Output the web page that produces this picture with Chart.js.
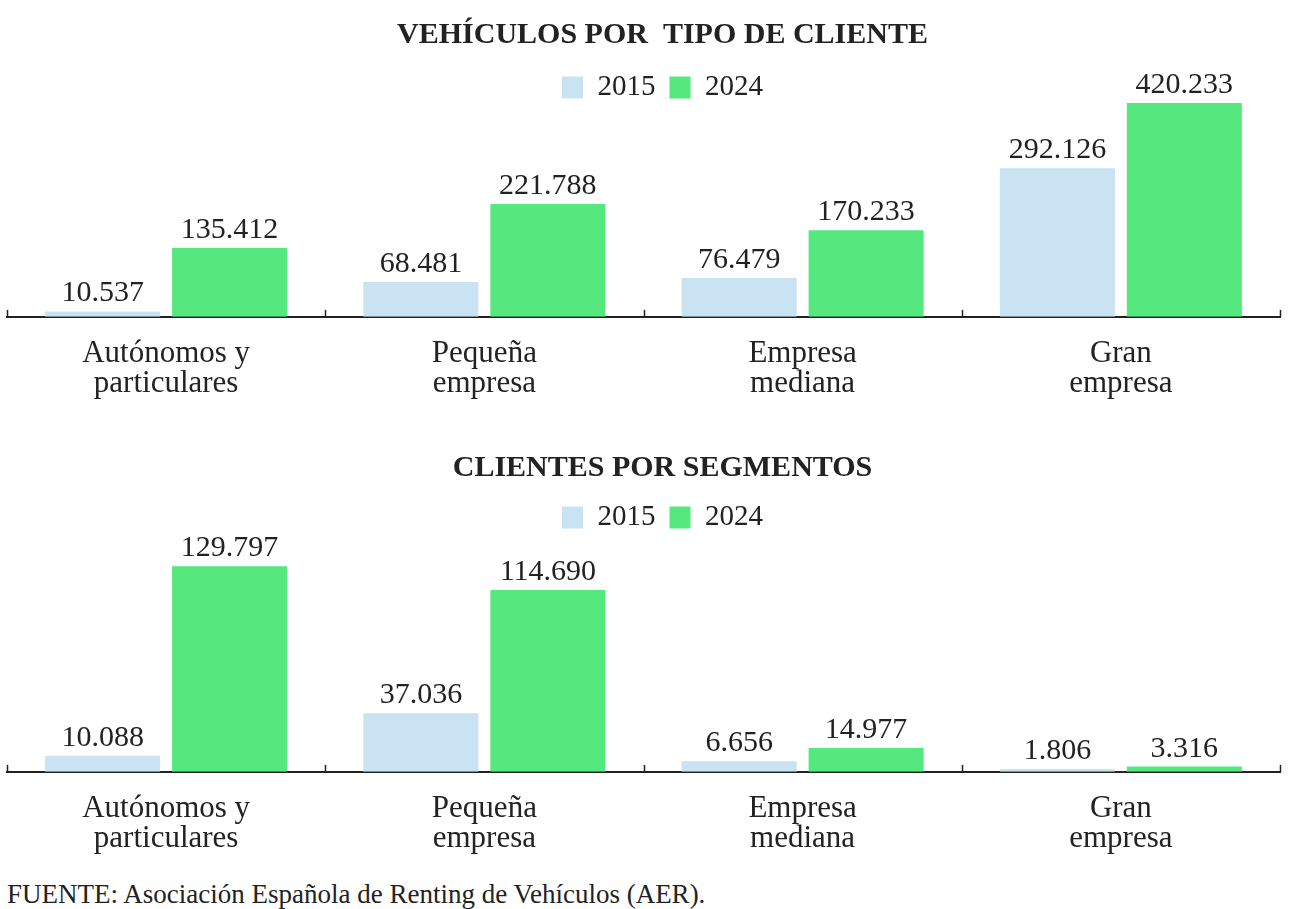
<!DOCTYPE html>
<html>
<head>
<meta charset="utf-8">
<script src="https://cdn.jsdelivr.net/npm/chart.js@4.4.1/dist/chart.umd.min.js"></script>
<style>
  html, body { margin: 0; padding: 0; background: #fff; }
  body { width: 1292px; height: 909px; position: relative; overflow: hidden; }
  .wrap { position: absolute; left: 0; width: 1330px; }
  #w1 { top: 0; height: 421px; }
  #w2 { top: 430px; height: 446px; }
  #footer { position: absolute; left: 7px; top: 879px; font-family: "Liberation Serif", serif; font-size: 27px; color: #222; white-space: nowrap; }
</style>
</head>
<body>
<div class="wrap" id="w1"><canvas id="c1"></canvas></div>
<div class="wrap" id="w2"><canvas id="c2"></canvas></div>
<div id="footer">FUENTE: Asociación Española de Renting de Vehículos (AER).</div>
<script>
const categories = [
  ['Autónomos y', 'particulares'],
  ['Pequeña', 'empresa'],
  ['Empresa', 'mediana'],
  ['Gran', 'empresa']
];
const seriesNames = ['2015', '2024'];
const vehiculos2015 = [10537, 68481, 76479, 292126];
const vehiculos2024 = [135412, 221788, 170233, 420233];
const clientes2015 = [10088, 37036, 6656, 1806];
const clientes2024 = [129797, 114690, 14977, 3316];
const title1 = 'VEHÍCULOS POR  TIPO DE CLIENTE';
const title2 = 'CLIENTES POR SEGMENTOS';

const COLOR_2015 = '#c9e3f2';
const COLOR_2024 = '#55e87f';
const INK = '#222222';
const FONT = '"Liberation Serif", "Times New Roman", serif';

function fmt(v) {
  return String(v).replace(/\B(?=(\d{3})+(?!\d))/g, '.');
}

const valueLabels = {
  id: 'valueLabels',
  afterDatasetsDraw(chart) {
    const ctx = chart.ctx;
    ctx.save();
    ctx.font = '30px ' + FONT;
    ctx.fillStyle = INK;
    ctx.textAlign = 'center';
    ctx.textBaseline = 'alphabetic';
    chart.data.datasets.forEach((ds, di) => {
      const meta = chart.getDatasetMeta(di);
      meta.data.forEach((bar, i) => {
        ctx.fillText(fmt(ds.data[i]), bar.x, bar.y - 10);
      });
    });
    ctx.restore();
  }
};

const boundaryTicks = {
  id: 'boundaryTicks',
  afterDraw(chart) {
    const x = chart.scales.x;
    const ctx = chart.ctx;
    ctx.save();
    ctx.strokeStyle = INK;
    ctx.lineWidth = 1.5;
    for (let i = 0; i <= chart.data.labels.length; i++) {
      const px = Math.round(x.getPixelForValue(i - 0.5)) + 0.5;
      ctx.beginPath();
      ctx.moveTo(px, x.top);
      ctx.lineTo(px, x.top - 7);
      ctx.stroke();
    }
    ctx.restore();
  }
};

function makeChart(id, title, d15, d24, ymax, titlePad) {
  return new Chart(document.getElementById(id), {
    type: 'bar',
    data: {
      labels: categories,
      datasets: [
        { label: seriesNames[0], data: d15, backgroundColor: COLOR_2015 },
        { label: seriesNames[1], data: d24, backgroundColor: COLOR_2024 }
      ]
    },
    options: {
      responsive: true,
      maintainAspectRatio: false,
      animation: false,
      events: [],
      categoryPercentage: 0.798,
      barPercentage: 0.906,
      layout: { padding: { left: 7, right: 12, top: 0, bottom: 0 } },
      plugins: {
        title: {
          display: true,
          text: title,
          color: INK,
          font: { family: FONT, size: 30, weight: 'bold', lineHeight: 1.2 },
          padding: titlePad
        },
        legend: {
          display: true,
          maxHeight: 44,
          labels: {
            color: INK,
            font: { family: FONT, size: 29 },
            boxWidth: 21,
            boxHeight: 22,
            padding: 14
          }
        },
        tooltip: { enabled: false }
      },
      scales: {
        x: {
          grid: { display: false, drawTicks: false },
          border: { display: true, color: INK, width: 2 },
          ticks: {
            color: INK,
            font: { family: FONT, size: 31, lineHeight: 0.97 },
            padding: 22,
            maxRotation: 0,
            autoSkip: false
          }
        },
        y: {
          display: true,
          position: 'right',
          min: 0,
          max: ymax,
          grid: { display: false, drawTicks: false },
          border: { display: false },
          ticks: { display: false },
          afterFit(scale) { scale.width = 38; }
        }
      }
    },
    plugins: [valueLabels, boundaryTicks]
  });
}

makeChart('c1', title1, vehiculos2015, vehiculos2024, 420233, { top: 17, bottom: 6 });
makeChart('c2', title2, clientes2015, clientes2024, 150700, { top: 20, bottom: 3 });
</script>
</body>
</html>
